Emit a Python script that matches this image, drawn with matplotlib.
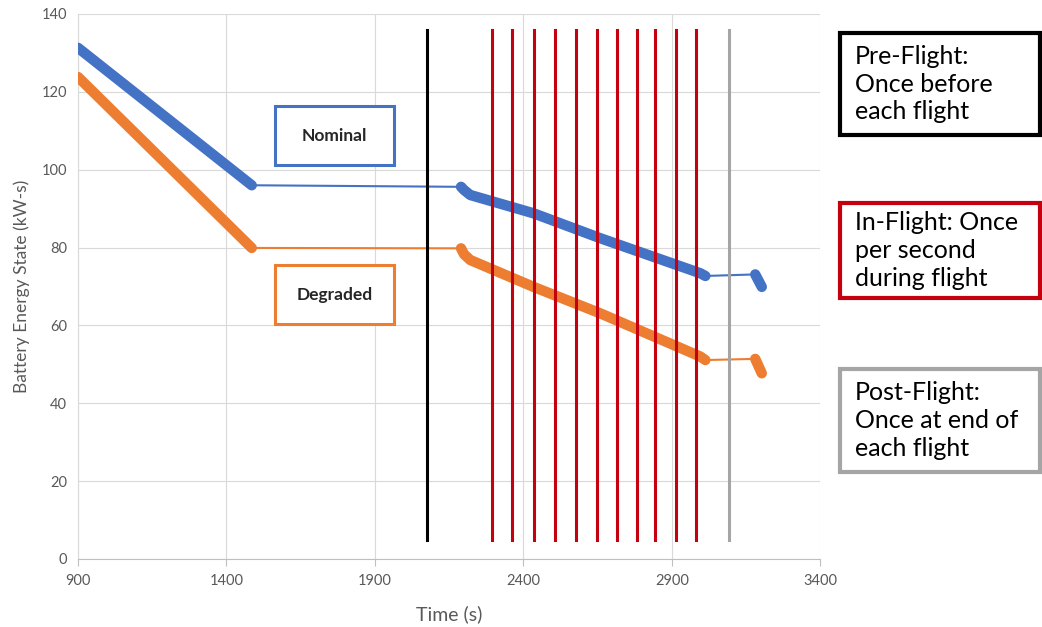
import numpy as np
import matplotlib.pyplot as plt
from matplotlib.patches import Rectangle

plt.rcParams['font.family'] = ['Lato', 'DejaVu Sans']

# battery energy state, pre-flight / flight / post-flight portions
pre_t = [900, 1485]
nominal_pre = [131.3, 96.0]
degraded_pre = [123.8, 79.9]

flight_t = [2190, 2200, 2221, 2434, 2659, 2996, 3013]
nominal_flight = [95.6, 94.8, 93.5, 88.8, 82.4, 73.4, 72.7]
degraded_flight = [79.8, 78.3, 76.8, 69.9, 63.1, 52.0, 51.1]

post_t = [3181, 3203]
nominal_post = [73.1, 69.9]
degraded_post = [51.4, 47.7]

# update events
preflight_event = [2076]
inflight_events = [2294, 2361, 2436, 2506, 2577, 2648, 2715, 2784, 2844, 2915, 2981]
postflight_event = [3093]
event_span = [5, 136]

blue = '#4472C4'
orange = '#ED7D31'
red = '#C5000F'
grey = '#A5A5A5'

fig = plt.figure(figsize=(10.42, 6.27), dpi=100)
ax = fig.add_axes([0.0749, 0.1085, 0.7123, 0.8692])


def draw_series(pre, flight, post, color):
    # thin connectors between sampled segments
    ax.plot([pre_t[-1], flight_t[0]], [pre[-1], flight[0]], color=color, lw=1.5, zorder=3)
    ax.plot([flight_t[-1], post_t[0]], [flight[-1], post[0]], color=color, lw=1.5, zorder=3)
    for t, v in [(pre_t, pre), (flight_t, flight), (post_t, post)]:
        ax.plot(t, v, color=color, lw=7.5, solid_capstyle='round',
                solid_joinstyle='round', zorder=3)


draw_series(nominal_pre, nominal_flight, nominal_post, blue)
draw_series(degraded_pre, degraded_flight, degraded_post, orange)

for t in preflight_event:
    ax.plot([t, t], event_span, color='black', lw=2.2, zorder=4)
for t in inflight_events:
    ax.plot([t, t], event_span, color=red, lw=2.2, zorder=4)
for t in postflight_event:
    ax.plot([t, t], event_span, color=grey, lw=2.2, zorder=4)

ax.set_xlim(900, 3400)
ax.set_ylim(0, 140)
ax.set_xticks(np.arange(900, 3401, 500))
ax.set_yticks(np.arange(0, 141, 20))
ax.grid(True, color='#D9D9D9', lw=0.8)
ax.set_axisbelow(True)
for s in ['top', 'right']:
    ax.spines[s].set_visible(False)
ax.spines['left'].set_color('#D9D9D9')
ax.spines['bottom'].set_color('#BFBFBF')
ax.tick_params(axis='y', length=0, labelsize=10.5, labelcolor='#595959', pad=8)
ax.tick_params(axis='x', length=5, color='#BFBFBF', labelsize=10.5,
               labelcolor='#595959', pad=6)
ax.set_xlabel('Time (s)', fontsize=14, color='#595959', labelpad=12)
ax.set_ylabel('Battery Energy State (kW-s)', fontsize=12.5, color='#595959', labelpad=8)

W, H = 1042, 627


def box(x0, y0, x1, y1, edge, lw):
    fig.patches.append(Rectangle((x0 / W, 1 - y1 / H), (x1 - x0) / W, (y1 - y0) / H,
                                 transform=fig.transFigure, fill=True, facecolor='white',
                                 edgecolor=edge, lw=lw, zorder=5))


# series labels inside the plot
box(275, 106, 394, 165, blue, 2.2)
fig.text(334.5 / W, 1 - 136 / H, 'Nominal', ha='center', va='center',
         fontsize=12.5, fontweight='bold', color='#262626', zorder=6)
box(275, 265, 394, 324, orange, 2.2)
fig.text(334.5 / W, 1 - 295 / H, 'Degraded', ha='center', va='center',
         fontsize=12.5, fontweight='bold', color='#262626', zorder=6)

# legend boxes for update rates
notes = [
    ((840, 33, 1040, 135), 'black', 'Pre-Flight:\nOnce before\neach flight'),
    ((840, 203, 1040, 298), red, 'In-Flight: Once\nper second\nduring flight'),
    ((840, 369, 1040, 472), grey, 'Post-Flight:\nOnce at end of\neach flight'),
]
for (x0, y0, x1, y1), edge, label in notes:
    box(x0, y0, x1, y1, edge, 3)
    fig.text(855 / W, 1 - (y0 + y1) / 2 / H, label, ha='left', va='center',
             fontsize=18, linespacing=1.25, color='black', zorder=6)

fig.savefig('out.png', dpi=100)
